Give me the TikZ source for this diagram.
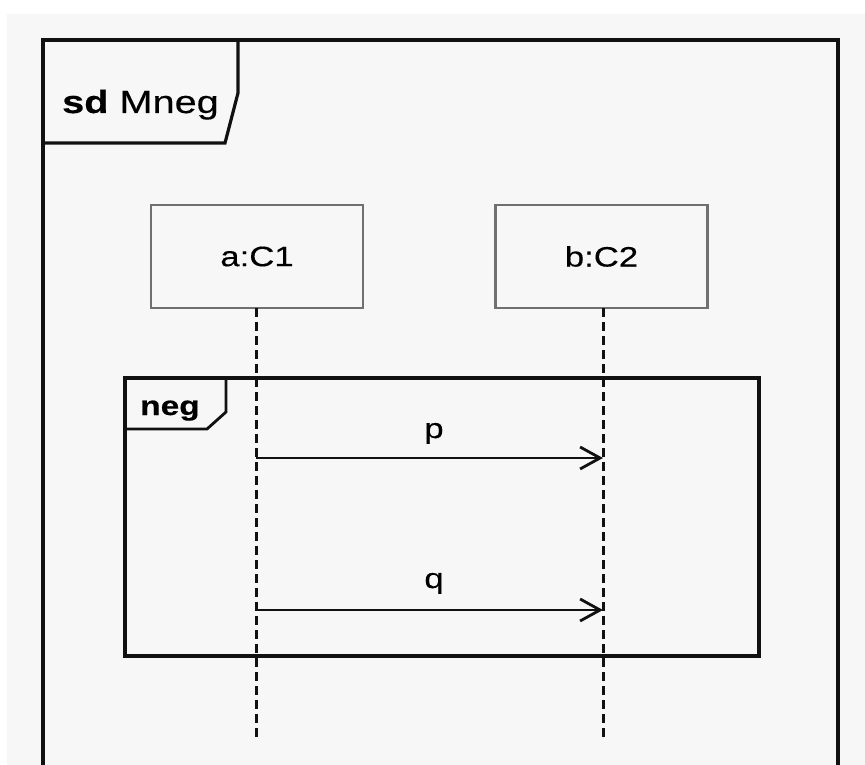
\documentclass[tikz,border=0pt]{standalone}
\usepackage{fontspec}
\setmainfont{Liberation Sans}[FakeStretch=1.24,FakeBold=0.4]
\usetikzlibrary{arrows.meta}
\definecolor{bggray}{HTML}{F7F7F7}
\definecolor{boxgray}{HTML}{707070}
\definecolor{ink}{HTML}{111111}
\begin{document}
\begin{tikzpicture}[x=1pt,y=-1pt,
  frameline/.style={draw=ink,line width=3.8pt,line join=miter},
  fragline/.style={draw=ink,line width=3.2pt,line join=miter},
  lifebox/.style={draw=boxgray,line width=2.6pt,fill=bggray,minimum width=212pt,minimum height=103pt,inner sep=0pt,font=\fontsize{28}{30}\selectfont},
  lifeline/.style={draw=ink,line width=3pt,dash pattern=on 9pt off 5pt},
  msg/.style={draw=ink,line width=2.8pt,-{Straight Barb[length=20pt,width=22pt,line width=2.8pt]}},
  lbl/.style={font=\fontsize{28}{30}\selectfont,inner sep=0pt,anchor=base}
]
\useasboundingbox (0,0) rectangle (865,765);
\fill[white] (0,0) rectangle (865,765);
\fill[bggray] (7,14) rectangle (865,765);
% outer frame
\draw[frameline] (43,765) -- (43,40) -- (838,40) -- (838,765);
\draw[frameline,line width=3.2pt] (238,40) -- (238,93) -- (225,143) -- (43,143);
\node[anchor=base west,inner sep=0pt,font=\fontsize{32}{34}\selectfont] (sdlabel) at (62,113) {\textbf{sd} Mneg};
% lifeline heads
\node[lifebox] (a) at (257,256.5) {a:C1};
\node[lifebox] (b) at (601.5,256.5) {b:C2};
\coordinate (aend) at (256,738);
\coordinate (bend) at (603,738);
% neg fragment
\draw[fragline] (125,378) rectangle (759,656);
\draw[fragline,line width=2.8pt] (226,378) -- (226,412) -- (207,429) -- (125,429);
\node[anchor=base west,inner sep=0pt,font=\fontsize{27}{29}\selectfont\bfseries] (neglabel) at (140,415) {neg};
% lifelines
\draw[lifeline] (256,308) -- (aend);
\draw[lifeline] (603,308) -- (bend);
% messages
\coordinate (p1) at (256,458);
\coordinate (p2) at (603,458);
\coordinate (q1) at (256,610);
\coordinate (q2) at (603,610);
\draw[msg] (p1) -- (p2);
\draw[msg] (q1) -- (q2);
\node[lbl] (plabel) at (434,438) {p};
\node[lbl] (qlabel) at (434,588) {q};
\end{tikzpicture}
\end{document}
